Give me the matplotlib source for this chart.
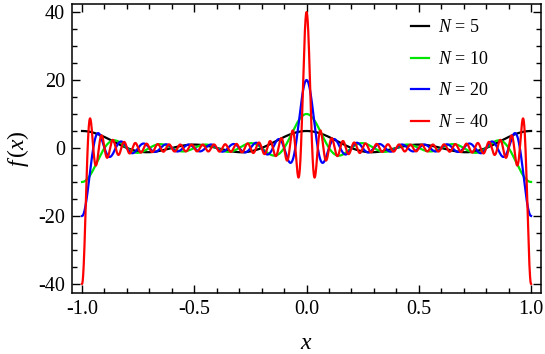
import numpy as np
import matplotlib
matplotlib.use("Agg")
from matplotlib import pyplot as plt
from matplotlib.ticker import MultipleLocator

# f(x) = sin(N pi x) / sin(pi x), one curve per N
N_VALUES = [5, 10, 20, 40]
COLORS = ["black", "#00e600", "#0000ff", "#ff0000"]
X_RANGE = (-1.0, 1.0)
X_TICKS = [-1.0, -0.5, 0.0, 0.5, 1.0]
Y_TICKS = [-40, -20, 0, 20, 40]

plt.rcParams["font.family"] = ["Liberation Serif", "DejaVu Serif"]
plt.rcParams["mathtext.fontset"] = "custom"
plt.rcParams["mathtext.it"] = "Liberation Serif:italic"
plt.rcParams["mathtext.rm"] = "Liberation Serif"
plt.rcParams["axes.unicode_minus"] = False


def f(x, n):
    s = np.sin(np.pi * x)
    small = np.abs(s) < 1e-9
    out = np.empty_like(x)
    out[~small] = np.sin(n * np.pi * x[~small]) / s[~small]
    out[small] = n * np.cos(n * np.pi * x[small]) / np.cos(np.pi * x[small])
    return out


x = np.linspace(X_RANGE[0], X_RANGE[1], 4001)

fig = plt.figure(figsize=(5.45, 3.54), dpi=100)
ax = fig.add_axes([0.132, 0.173, 0.861, 0.816])

for n, c in zip(N_VALUES, COLORS):
    ax.plot(x, f(x, n), color=c, lw=1.6, label=rf"$N$ = {n}")

ax.set_xlim(-1.045, 1.045)
ax.set_ylim(-42.6, 42.4)
ax.set_xticks(X_TICKS)
ax.set_yticks(Y_TICKS)
ax.xaxis.set_minor_locator(MultipleLocator(0.1))
ax.yaxis.set_minor_locator(MultipleLocator(5))
ax.tick_params(which="both", direction="in", top=True, right=True,
               labelsize=14.5, width=1.0, pad=5)
ax.tick_params(which="major", length=6)
ax.tick_params(which="minor", length=3.5)
for sp in ax.spines.values():
    sp.set_linewidth(1.1)

ax.set_xlabel(r"$x$", fontsize=17, labelpad=10)
ax.set_ylabel(r"$f\,(x)$", fontsize=17, labelpad=5)

leg = ax.legend(loc="upper left", bbox_to_anchor=(0.708, 0.971),
                frameon=False, fontsize=13, borderaxespad=0,
                handlelength=1.0, handletextpad=0.5, labelspacing=0.8)

fig.savefig("out.png", dpi=100)
